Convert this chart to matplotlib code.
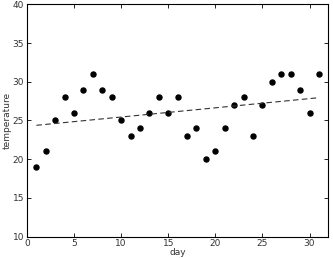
import numpy as np
import matplotlib.pyplot as plt

day = np.arange(1, 32)
temperature = [19, 21, 25, 28, 26, 29, 31, 29, 28, 25, 23, 24, 26, 28, 26, 28,
               23, 24, 20, 21, 24, 27, 28, 23, 27, 30, 31, 31, 29, 26, 31]

fit = np.polyfit(day, temperature, 1)

fig = plt.figure(figsize=(3.33, 2.58), dpi=100)
ax = fig.add_axes([0.081, 0.083, 0.905, 0.9])
ax.plot(day, temperature, "o", color="black", markersize=3.6)
ax.plot(day, np.polyval(fit, day), color="#333333", linewidth=0.8,
        linestyle=(0, (5, 3)))

ax.set_xlim(0, 32)
ax.set_ylim(10, 40)
ax.set_xticks(range(0, 31, 5))
ax.set_xlabel("day", fontsize=6.5, labelpad=0, color="#333333")
ax.set_ylabel("temperature", fontsize=6.5, labelpad=1, color="#333333")
ax.tick_params(direction="in", top=True, right=True, labelsize=6.5,
               length=3, width=0.6, pad=2, labelcolor="#333333")
for s in ax.spines.values():
    s.set_linewidth(0.8)

fig.savefig("out.png", dpi=100)
